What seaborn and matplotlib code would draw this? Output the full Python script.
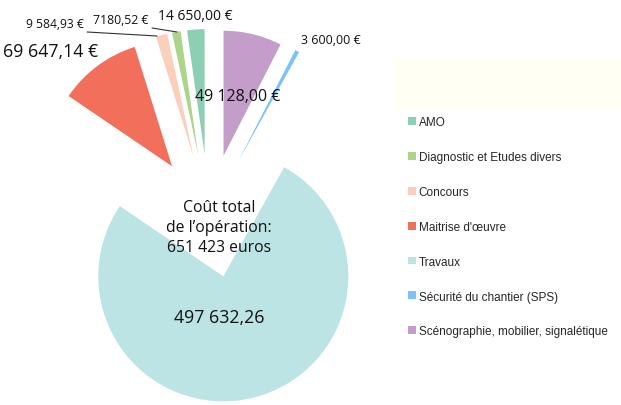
import matplotlib
matplotlib.use("Agg")
import matplotlib.pyplot as plt
import matplotlib.patches as mpatches
import seaborn as sns
sns.set_theme(style="white")

postes = ["AMO", "Diagnostic et Etudes divers", "Concours", "Maitrise d'œuvre",
          "Travaux", "Sécurité du chantier (SPS)", "Scénographie, mobilier, signalétique"]
montants = [14650.00, 7180.52, 9584.93, 69647.14, 497632.26, 3600.00, 49128.00]
etiquettes = ["14 650,00 €", "7180,52 €", "9 584,93 €", "69 647,14 €",
              "497 632,26", "3 600,00 €", "49 128,00 €"]
couleurs = ["#8dcfb5", "#acd48a", "#fad0bd", "#f2705b", "#bce4e4", "#7dc2f7", "#c49dca"]
total_txt = "Coût total\nde l\u2019opération:\n651 423 euros"

W, H = 621, 406
fig = plt.figure(figsize=(W / 100, H / 100), dpi=100)
ax = fig.add_axes([0, 0, 1, 1])

# pie in pixel units: centre (209, 217) from top, radius 125, slices pushed out ~62 px
wedges, _ = ax.pie(montants, colors=couleurs, startangle=90, counterclock=True,
                   center=(209, H - 217), radius=125, explode=[62] * len(montants),
                   wedgeprops=dict(linewidth=0))
ax.set_xlim(0, W)
ax.set_ylim(0, H)
ax.set_aspect("equal")
ax.axis("off")

lab_font = ["Open Sans", "DejaVu Sans"]
def t(x, y, s, size, **kw):
    ax.text(x, H - y, s, fontsize=size, family=lab_font, color="#111111",
            ha=kw.pop("ha", "center"), va="center", **kw)

t(3, 52, etiquettes[3], 12.8, ha="left")
t(55, 24, etiquettes[2], 8.7)
t(121, 20, etiquettes[1], 8.8)
t(195, 17, etiquettes[0], 10)
t(331, 41, etiquettes[5], 9)
t(238, 97, etiquettes[6], 11.5)
t(219, 228, total_txt, 11.3, linespacing=1.3)
t(219, 318, etiquettes[4], 12.8)

# leader lines for the two thin slices
ax.plot([87, 157], [H - 33, H - 37], color="#333333", lw=0.8)
ax.plot([152, 177], [H - 29, H - 33], color="#333333", lw=0.8)

# pale title box above the legend
ax.add_patch(mpatches.Rectangle((394, H - 110), 227, 51, color="#fffff3", lw=0))

leg = ax.legend(wedges, postes, loc="upper left", bbox_to_anchor=(408 / W, 1 - 117 / H),
                frameon=False, prop={"family": "Liberation Sans", "size": 8.5},
                labelspacing=1.94, handlelength=0.65, handleheight=0.65,
                handletextpad=0.25, borderpad=0, borderaxespad=0)

fig.savefig("out.png", dpi=100)
